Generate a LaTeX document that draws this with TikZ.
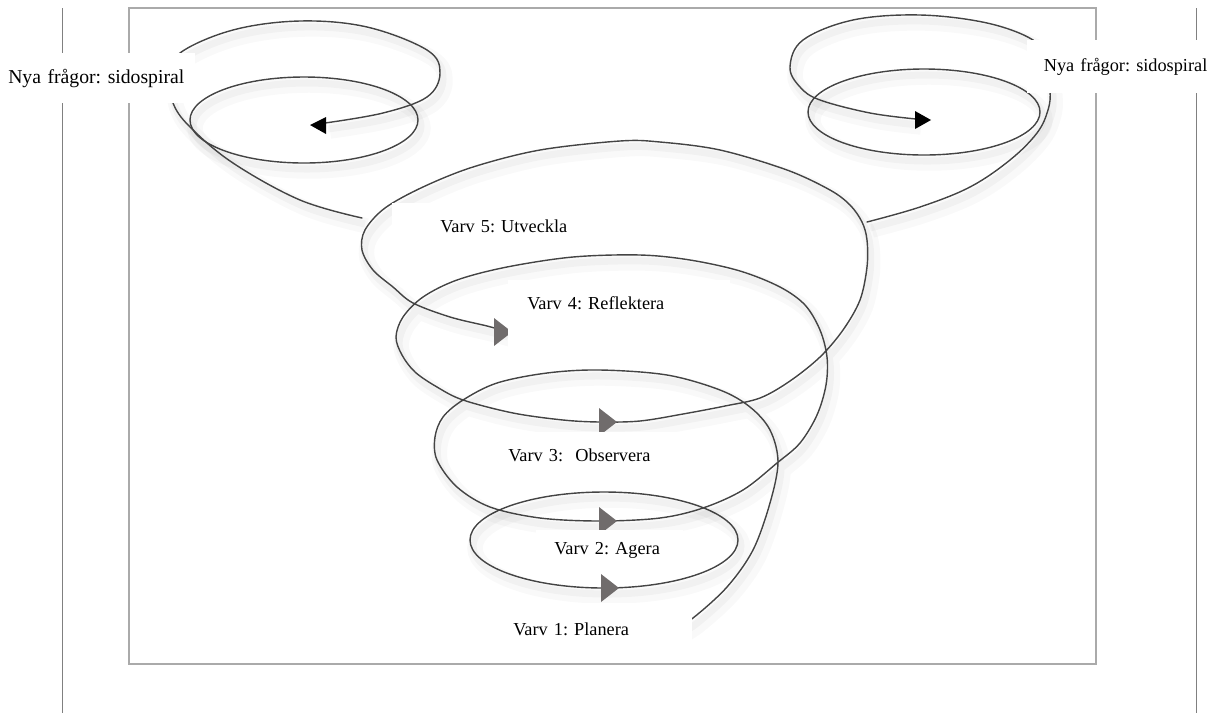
\documentclass[tikz,border=0pt]{standalone}
\usepackage{fontspec}
\setmainfont{Liberation Serif}
\frenchspacing

\definecolor{spiralgray}{RGB}{68,68,68}
\definecolor{tipgray}{RGB}{112,108,108}
\definecolor{framegray}{RGB}{170,170,170}
\definecolor{rulegray}{RGB}{128,128,128}

\begin{document}
\begin{tikzpicture}[x=0.025cm,y=-0.025cm,
    spiral/.style={draw=spiralgray,line width=1pt,line cap=round,
      preaction={draw=black,draw opacity=0.025,line width=11pt,transform canvas={shift={(5,8)}}},
      preaction={draw=black,draw opacity=0.03,line width=5pt,transform canvas={shift={(3,6)}}}},
    varvbox/.style={fill=white,inner ysep=0pt,align=left,anchor=north west,
      font=\fontsize{13}{15}\selectfont}]
    \useasboundingbox (0,0) rectangle (1220,713);

    % Page rules and picture frame.
    \draw[rulegray,line width=0.6pt] (62,8) -- (62,713);
    \draw[rulegray,line width=0.6pt] (1196,8) -- (1196,713);
    \draw[framegray,line width=0.8pt] (129,8) rectangle (1096,664);

    % Side spirals: new questions.
    \draw[spiral] (304,120) ellipse [x radius=114,y radius=43];
    \draw[spiral] plot[smooth,tension=0.6] coordinates {(362,218) (300,200) (233,163) (190,127) (173,103) (170,78) (180,53) (233,30) (300,21) (367,27) (427,50) (440,73) (427,97) (383,113) (325,123)};
    \fill[black] (310,125) -- ++(16,-8) -- ++(0,17) -- cycle;
    \draw[spiral] (924,112) ellipse [x radius=116,y radius=43];
    \draw[spiral] plot[smooth,tension=0.6] coordinates {(867,222) (920,207) (970,187) (1010,160) (1037,133) (1048,110) (1050,90) (1045,60) (1033,40) (987,23) (920,15) (853,20) (803,40) (790,67) (800,87) (820,100) (870,113) (916,119)};
    \fill[black] (931,120) -- ++(-16,-9) -- ++(0,18) -- cycle;

    % Main spiral, turn 1 and the rising turns.
    \draw[spiral] (604,540) ellipse [x radius=134,y radius=48];
    \draw[spiral] plot[smooth,tension=0.55] coordinates {(670,632) (693,618) (727,587) (753,550) (770,503) (778,462) (770,430) (750,407) (720,390) (667,375) (600,370) (547,373) (497,383) (463,400) (443,417) (435,437) (437,460) (457,487) (490,507) (540,518) (600,521) (660,518) (703,508) (743,490) (777,463) (800,443) (817,415) (826,385) (827,357) (820,330) (805,305) (780,287) (740,271) (690,260) (640,255) (573,257) (507,267) (457,280) (423,297) (403,317) (396,337) (402,355) (415,372) (437,387) (463,400) (513,413) (563,420) (600,422) (640,421) (683,414) (725,406) (760,398) (790,381) (820,357) (843,330) (860,300) (867,267) (867,240) (862,222) (850,205) (830,190) (787,170) (720,150) (660,142) (620,141) (540,150) (473,167) (423,187) (385,208) (365,230) (362,250) (373,270) (393,287) (413,303) (450,317) (487,326) (505,331)};

    % Direction marks on each turn.
    \foreach \tx/\ty in {619/588,617/521,617/422,512/332}
      \fill[tipgray] (\tx,\ty) -- ++(-18,-14) -- ++(0,28) -- cycle;

    % Labels.
    \node[varvbox,inner xsep=0.2cm,text width=4.475cm,minimum height=1.25cm,font=\fontsize{14}{16}\selectfont] (nyaleft) at (0,53) {Nya frågor: sidospiral};
    \node[varvbox,align=right,inner xsep=0.325cm,text width=4.175cm,minimum height=1.325cm] (nyaright) at (1027,40) {Nya frågor: sidospiral};
    \node[varvbox,inner xsep=1.2cm,text width=5.3cm,minimum height=1.125cm] (varv5) at (392,203) {Varv 5: Utveckla};
    \node[varvbox,inner xsep=0.475cm,text width=4.6cm,text height=0.725cm,text depth=1.45cm] (varv4) at (508,280) {Varv 4: Reflektera};
    \node[varvbox,inner xsep=0.5cm,text width=4.875cm,minimum height=1.15cm] (varv3) at (488,432) {Varv 3:~ Observera};
    \node[varvbox,inner xsep=0.45cm,text width=2.775cm,minimum height=1.0cm] (varv2) at (536,530) {Varv 2: Agera};
    \node[varvbox,inner xsep=0.2cm,text width=4.275cm,minimum height=1.3cm] (varv1) at (505,603) {Varv 1: Planera};
\end{tikzpicture}
\end{document}
